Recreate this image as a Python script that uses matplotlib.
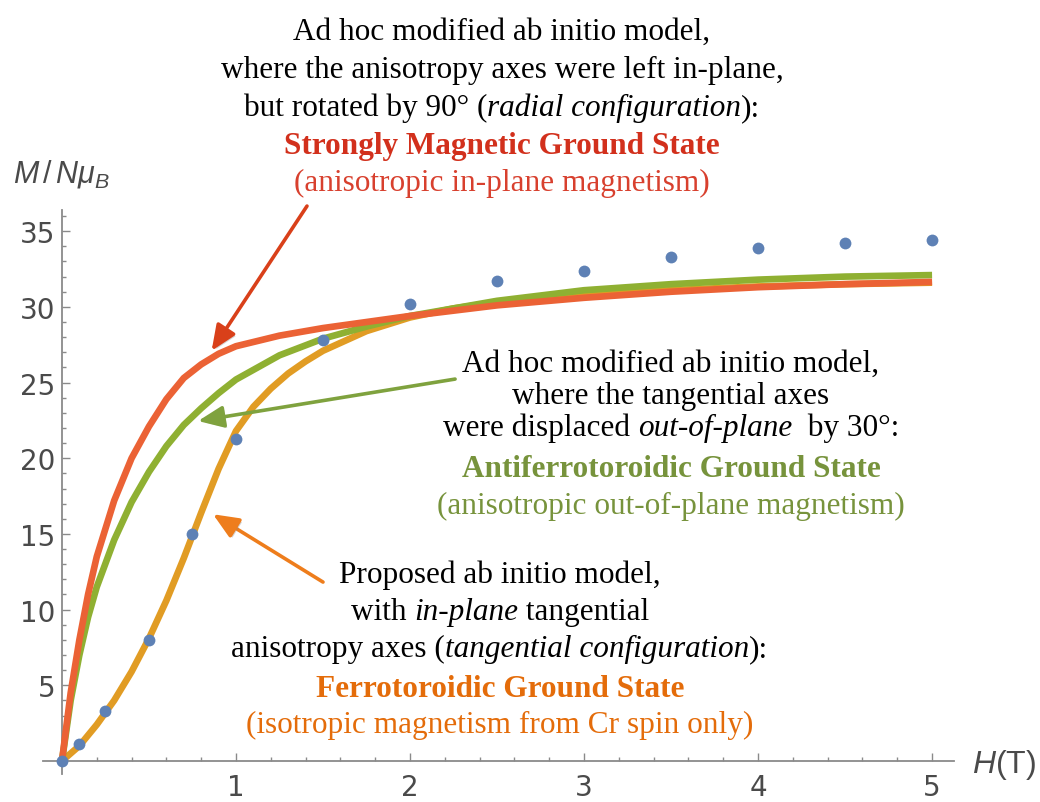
import matplotlib
matplotlib.use("Agg")
import matplotlib.pyplot as plt
import matplotlib.patheffects as pe
from matplotlib.ticker import MultipleLocator, FixedLocator

W, H = 1040, 803

# measured magnetisation (blue dots)
h_meas = [0.0, 0.1, 0.25, 0.5, 0.75, 1.0, 1.5, 2.0, 2.5, 3.0, 3.5, 4.0, 4.5, 5.0]
m_meas = [0.0, 1.1, 3.3, 8.0, 15.0, 21.3, 27.8, 30.2, 31.7, 32.4, 33.3, 33.9, 34.2, 34.4]

# proposed model, tangential configuration (ferrotoroidic)
h_ferro = [0.0, 0.1, 0.2, 0.3, 0.4, 0.5, 0.6, 0.7, 0.8, 0.9, 1.0, 1.1, 1.2, 1.3, 1.4, 1.5,
           1.75, 2.0, 2.25, 2.5, 2.75, 3.0, 3.5, 4.0, 4.5, 5.0]
m_ferro = [0.0, 1.0, 2.4, 4.0, 5.9, 8.1, 10.6, 13.4, 16.4, 19.3, 21.8, 23.4, 24.6, 25.6, 26.4, 27.1,
           28.4, 29.3, 29.9, 30.3, 30.6, 30.8, 31.1, 31.35, 31.5, 31.6]

# out-of-plane tilted axes (antiferrotoroidic)
h_anti = [0.0, 0.05, 0.1, 0.15, 0.2, 0.3, 0.4, 0.5, 0.6, 0.7, 0.8, 0.9, 1.0, 1.25, 1.5, 1.75,
          2.0, 2.5, 3.0, 3.5, 4.0, 4.5, 5.0]
m_anti = [0.0, 4.0, 7.0, 9.5, 11.5, 14.6, 17.1, 19.1, 20.8, 22.2, 23.3, 24.3, 25.2, 26.8, 27.9, 28.7,
          29.4, 30.4, 31.1, 31.5, 31.8, 32.0, 32.1]

# radial configuration (strongly magnetic)
h_radial = [0.0, 0.05, 0.1, 0.15, 0.2, 0.3, 0.4, 0.5, 0.6, 0.7, 0.8, 0.9, 1.0, 1.25, 1.5, 1.75,
            2.0, 2.5, 3.0, 3.5, 4.0, 4.5, 5.0]
m_radial = [0.0, 4.5, 8.0, 11.0, 13.5, 17.2, 20.0, 22.1, 23.9, 25.3, 26.2, 26.9, 27.4, 28.1, 28.6, 29.0,
            29.4, 30.1, 30.6, 31.0, 31.3, 31.5, 31.65]

x_ticks = [1, 2, 3, 4, 5]
y_ticks = [5, 10, 15, 20, 25, 30, 35]

C_BLUE = "#5E81B5"
C_ORANGE = "#E19C24"
C_GREEN = "#8FB032"
C_RED = "#EB6235"
C_AXIS = "#8a8a8a"
C_LABEL = "#4a4a4a"

SERIF = "Liberation Serif"
TXT_SIZE = 22.5

fig = plt.figure(figsize=(W / 100, H / 100), dpi=100)
ax = fig.add_axes([43 / W, 1 - 775 / H, 911 / W, 564 / H])

ax.plot(h_ferro, m_ferro, color=C_ORANGE, lw=4.8, solid_capstyle="butt", zorder=2)
ax.plot(h_anti, m_anti, color=C_GREEN, lw=4.8, solid_capstyle="butt", zorder=3)
ax.plot(h_radial, m_radial, color=C_RED, lw=4.8, solid_capstyle="butt", zorder=4)
ax.plot(h_meas, m_meas, "o", color=C_BLUE, ms=8.5, mec="none", zorder=5, clip_on=False)

ax.set_xlim(-0.109, 5.126)
ax.set_ylim(-0.86, 36.4)

for side in ("top", "right"):
    ax.spines[side].set_visible(False)
for side in ("left", "bottom"):
    ax.spines[side].set_position(("data", 0))
    ax.spines[side].set_color(C_AXIS)
    ax.spines[side].set_linewidth(1.3)

ax.xaxis.set_major_locator(FixedLocator(x_ticks))
ax.yaxis.set_major_locator(FixedLocator(y_ticks))
ax.xaxis.set_minor_locator(MultipleLocator(0.2))
ax.yaxis.set_minor_locator(MultipleLocator(1))
ax.tick_params(which="both", direction="in", color=C_AXIS, width=1.0)
ax.tick_params(which="major", length=5.5)
ax.tick_params(which="minor", length=2.8)
ax.tick_params(axis="x", which="major", pad=9)
ax.tick_params(axis="y", which="major", pad=5)
ax.set_xticklabels([str(v) for v in x_ticks], fontsize=20, color=C_LABEL, family="DejaVu Sans")
ax.set_yticklabels([str(v) for v in y_ticks], fontsize=20, color=C_LABEL, family="DejaVu Sans")

plt.rcParams["mathtext.fontset"] = "custom"
plt.rcParams["mathtext.it"] = "Liberation Sans:italic"
plt.rcParams["mathtext.rm"] = "Liberation Sans"
fig.text(13 / W, 1 - 183 / H, r"$M\,/\,N\mu_B$", fontsize=22, color=C_LABEL, ha="left", va="baseline")
fig.text(972 / W, 1 - 773 / H, r"$H$(T)", fontsize=23, color=C_LABEL, ha="left", va="baseline",
         family="Liberation Sans")

renderer = fig.canvas.get_renderer()


def seg_width(s, kw, size):
    # width of a run of text, spaces included
    t1 = fig.text(0, 0, "|" + s + "|", fontsize=size, family=SERIF, **kw)
    t2 = fig.text(0, 0, "||", fontsize=size, family=SERIF, **kw)
    w = t1.get_window_extent(renderer).width - t2.get_window_extent(renderer).width
    t1.remove()
    t2.remove()
    return w


def centered_line(cx, base_y, parts, color="black", size=TXT_SIZE):
    widths = [seg_width(s, kw, size) for s, kw in parts]
    x = cx - sum(widths) / 2
    for (s, kw), w in zip(parts, widths):
        fig.text(x / W, 1 - base_y / H, s, fontsize=size, family=SERIF, color=color,
                 ha="left", va="baseline", **kw)
        x += w


REG = {}
ITA = {"style": "italic"}
BOLD = {"weight": "bold"}

# radial configuration block
top_cx = 502
centered_line(top_cx, 40, [("Ad hoc modified ab initio model,", REG)])
centered_line(top_cx, 78, [("where the anisotropy axes were left in-plane,", REG)])
centered_line(top_cx, 116, [("but rotated by 90° (", REG), ("radial configuration", ITA), ("):", REG)])
centered_line(top_cx, 154, [("Strongly Magnetic Ground State", BOLD)], color="#D2301C")
centered_line(top_cx, 191, [("(anisotropic in-plane magnetism)", REG)], color="#D8402E")

# tilted axes block
mid_cx = 671
centered_line(mid_cx, 372, [("Ad hoc modified ab initio model,", REG)])
centered_line(mid_cx, 404, [("where the tangential axes", REG)])
centered_line(mid_cx, 436, [("were displaced ", REG), ("out-of-plane", ITA), ("  by 30°:", REG)])
centered_line(mid_cx, 477, [("Antiferrotoroidic Ground State", BOLD)], color="#77933C")
centered_line(mid_cx, 514, [("(anisotropic out-of-plane magnetism)", REG)], color="#77933C")

# proposed model block
bot_cx = 500
centered_line(bot_cx, 583, [("Proposed ab initio model,", REG)])
centered_line(bot_cx, 620, [("with ", REG), ("in-plane", ITA), (" tangential", REG)])
centered_line(bot_cx, 657, [("anisotropy axes (", REG), ("tangential configuration", ITA), ("):", REG)])
centered_line(bot_cx, 697, [("Ferrotoroidic Ground State", BOLD)], color="#E46C0A")
centered_line(bot_cx, 733, [("(isotropic magnetism from Cr spin only)", REG)], color="#E46C0A")

shadow = [pe.withSimplePatchShadow(offset=(1.5, -1.5), shadow_rgbFace="#888888", alpha=0.35)]
arrows = [
    ((0.860, 27.1), (1.408, 36.66), "#D9401A"),
    ((0.782, 22.46), (2.259, 25.23), "#7FA23E"),
    ((0.868, 16.3), (1.500, 11.82), "#EE7D1C"),
]
for tip, tail, col in arrows:
    ax.annotate("", xy=tip, xytext=tail, annotation_clip=False,
                arrowprops=dict(arrowstyle="-|>,head_length=0.7,head_width=0.3",
                                color=col, lw=2.6, mutation_scale=22,
                                shrinkA=0, shrinkB=0, path_effects=shadow))

fig.savefig("out.png", dpi=100)
